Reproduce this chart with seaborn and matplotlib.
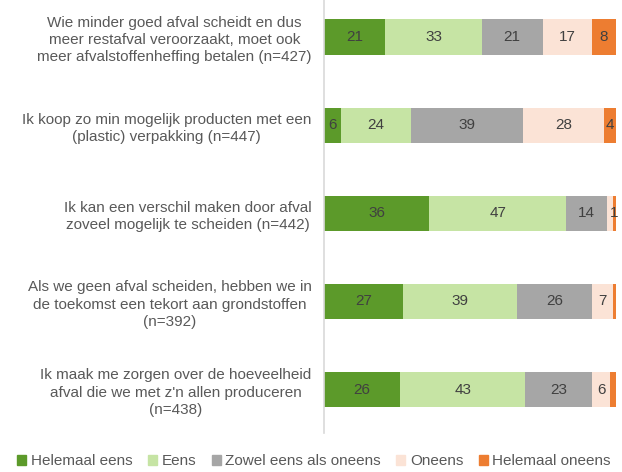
import numpy as np
import pandas as pd
import matplotlib
matplotlib.use("Agg")
import matplotlib.pyplot as plt
import matplotlib.patches as mpatches
import seaborn as sns

statements = [
    "Wie minder goed afval scheidt en dus\nmeer restafval veroorzaakt, moet ook\nmeer afvalstoffenheffing betalen (n=427)",
    "Ik koop zo min mogelijk producten met een\n(plastic) verpakking (n=447)",
    "Ik kan een verschil maken door afval\nzoveel mogelijk te scheiden (n=442)",
    "Als we geen afval scheiden, hebben we in\nde toekomst een tekort aan grondstoffen\n(n=392)",
    "Ik maak me zorgen over de hoeveelheid\nafval die we met z'n allen produceren\n(n=438)",
]
categories = ["Helemaal eens", "Eens", "Zowel eens als oneens", "Oneens", "Helemaal oneens"]

helemaal_eens = [21, 6, 36, 27, 26]
eens = [33, 24, 47, 39, 43]
zowel = [21, 39, 14, 26, 23]
oneens = [17, 28, 2, 7, 6]
helemaal_oneens = [8, 4, 1, 1, 2]

# which values get a label in the original
shown = [
    [True, True, True, True, True],
    [True, True, True, True, True],
    [True, True, True, False, True],
    [True, True, True, True, False],
    [True, True, True, True, False],
]

colors = ["#5c9a2a", "#c6e4a4", "#a6a6a6", "#fbe3d6", "#ed7d31"]

df = pd.DataFrame(
    np.array([helemaal_eens, eens, zowel, oneens, helemaal_oneens]).T,
    index=statements, columns=categories,
)
pct = df.div(df.sum(axis=1), axis=0) * 100
cum = pct.cumsum(axis=1)

sns.set_theme(style="white")
plt.rcParams["font.family"] = ["Liberation Sans", "DejaVu Sans"]

fig = plt.figure(figsize=(6.22, 4.72), dpi=100)
ax = fig.add_axes([0.521, 0.083, 0.469, 0.917])

# draw cumulative bars from the last category backwards so they stack
for j in reversed(range(len(categories))):
    sns.barplot(x=cum.iloc[:, j].values, y=list(range(len(statements))), orient="h",
                color=colors[j], saturation=1, width=0.4, ax=ax, linewidth=0,
                native_scale=True)

for i in range(len(statements)):
    for j, cat in enumerate(categories):
        if not shown[i][j]:
            continue
        centre = cum.iloc[i, j] - pct.iloc[i, j] / 2
        ax.text(centre, i, str(df.iloc[i, j]), ha="center", va="center",
                fontsize=11, color="#404040")

ax.set_xlim(0, 100)
ax.set_ylim(4.49, -0.42)
ax.set_yticks(range(len(statements)))
ax.set_yticklabels(statements, fontsize=11, color="#595959",
                   multialignment="center", linespacing=1.3)
ax.tick_params(axis="y", length=0, pad=9)
ax.set_xticks([])
ax.set_xlabel("")
ax.set_ylabel("")
for side in ["top", "right", "bottom"]:
    ax.spines[side].set_visible(False)
ax.spines["left"].set_color("#d9d9d9")
ax.spines["left"].set_linewidth(1.2)

handles = [mpatches.Patch(color=c, label=l) for c, l in zip(colors, categories)]
fig.legend(handles=handles, loc="center", bbox_to_anchor=(0.505, 0.023), ncol=5,
           frameon=False, fontsize=11, handlelength=0.6, handleheight=0.6,
           handletextpad=0.3, columnspacing=1.0, labelcolor="#595959")

fig.savefig("out.png", dpi=100)
plt.close()
